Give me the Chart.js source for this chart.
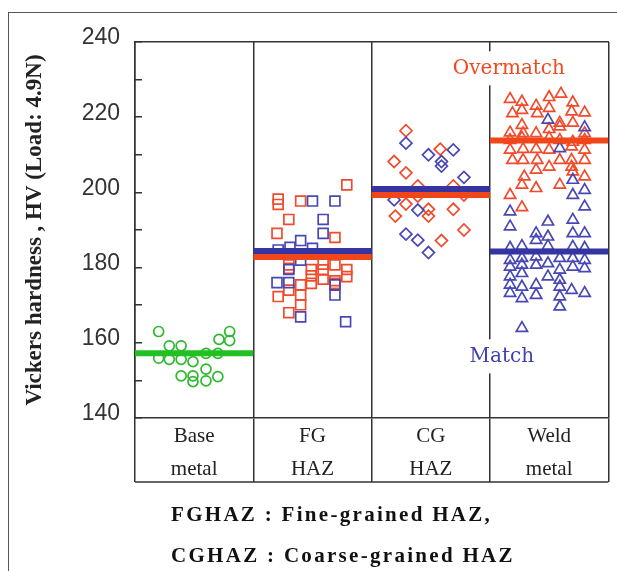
<!DOCTYPE html>
<html>
<head>
<meta charset="utf-8">
<script src="https://cdn.jsdelivr.net/npm/chart.js@4"></script>
<style>
  body { margin: 0; background: #fff; }
  #wrap { position: relative; width: 617px; height: 571px; }
  #frame { position: absolute; left: 8px; top: 12px; right: -2px; bottom: -2px;
           border-left: 1.5px solid #555; border-top: 1.5px solid #555; }
  canvas { position: absolute; left: 0; top: 0; }
</style>
</head>
<body>
<div id="wrap">
  <div id="frame"></div>
  <canvas id="myChart" width="617" height="571"></canvas>
</div>
<script>
// categories along x (each zone is one unit wide: 0-1, 1-2, 2-3, 3-4)
var categories = [['Base', 'metal'], ['FG', 'HAZ'], ['CG', 'HAZ'], ['Weld', 'metal']];
var yTicks = [140, 160, 180, 200, 220, 240];

// [position inside zone, HV]
var baseMetal = [
  [0.20, 163.0], [0.29, 159.2], [0.39, 159.2], [0.80, 163.0], [0.71, 160.9], [0.80, 160.6],
  [0.20, 155.9], [0.29, 155.6], [0.39, 155.6], [0.49, 155.0], [0.60, 157.2], [0.70, 157.2],
  [0.60, 153.0], [0.39, 151.2], [0.49, 151.2], [0.49, 149.7], [0.60, 149.9], [0.70, 151.0]
];
var fgRed = [
  [1.79, 202.0], [1.21, 198.2], [1.21, 196.8], [1.40, 197.7], [1.30, 192.8], [1.20, 189.1],
  [1.69, 188.0], [1.30, 180.7], [1.30, 179.8], [1.49, 179.5], [1.49, 177.8], [1.49, 175.8],
  [1.59, 180.9], [1.59, 179.4], [1.59, 176.9], [1.69, 180.7], [1.69, 175.8], [1.79, 179.5],
  [1.79, 177.6], [1.40, 175.4], [1.30, 174.0], [1.21, 172.3], [1.40, 172.7], [1.40, 170.1],
  [1.30, 168.0], [1.69, 176.5]
];
var fgBlue = [
  [1.50, 197.7], [1.69, 197.7], [1.59, 192.8], [1.59, 189.1], [1.40, 187.2], [1.40, 182.0],
  [1.20, 176.0], [1.30, 176.0], [1.69, 172.7], [1.40, 166.9], [1.78, 165.6], [1.21, 184.7],
  [1.31, 185.4], [1.50, 185.1], [1.30, 179.5], [1.69, 175.4]
];
var cgRed = [
  [2.29, 216.4], [2.58, 211.5], [2.19, 208.2], [2.29, 205.2], [2.39, 201.7], [2.69, 201.7],
  [2.29, 196.9], [2.20, 193.7], [2.48, 195.5], [2.48, 193.7], [2.69, 195.5], [2.78, 190.0],
  [2.59, 187.2], [2.39, 199.0], [2.78, 199.3]
];
var cgBlue = [
  [2.29, 213.1], [2.48, 210.0], [2.69, 211.3], [2.59, 208.2], [2.59, 207.0], [2.78, 204.0],
  [2.19, 198.0], [2.39, 195.3], [2.29, 188.9], [2.39, 187.3], [2.48, 184.0]
];
var weldRed = [
  [3.17, 224.8], [3.27, 224.1], [3.39, 223.0], [3.50, 225.3], [3.60, 226.2], [3.70, 223.9],
  [3.80, 221.2], [3.19, 221.0], [3.27, 221.9], [3.40, 221.0], [3.50, 222.4], [3.69, 221.5],
  [3.59, 218.5], [3.70, 218.5], [3.27, 217.9], [3.17, 215.9], [3.28, 215.7], [3.39, 215.7],
  [3.50, 216.8], [3.59, 217.5], [3.80, 215.7], [3.17, 211.3], [3.28, 211.5], [3.39, 211.5],
  [3.50, 211.3], [3.69, 212.2], [3.80, 211.3], [3.19, 208.6], [3.28, 208.6], [3.40, 208.6],
  [3.59, 208.6], [3.69, 208.6], [3.80, 208.6], [3.29, 204.2], [3.39, 206.0], [3.50, 206.8],
  [3.69, 206.8], [3.39, 201.1], [3.17, 199.3], [3.27, 196.0], [3.59, 202.0], [3.80, 204.2],
  [3.70, 205.5], [3.27, 202.0], [3.17, 213.9], [3.27, 214.5], [3.50, 214.5], [3.59, 213.9],
  [3.80, 213.9], [3.70, 213.4]
];
var weldBlue = [
  [3.49, 219.3], [3.80, 217.3], [3.59, 211.7], [3.70, 203.3], [3.80, 200.6], [3.70, 199.3],
  [3.17, 194.9], [3.80, 196.2], [3.17, 190.9], [3.49, 192.2], [3.70, 192.7], [3.39, 189.1],
  [3.49, 188.2], [3.70, 189.1], [3.80, 189.1], [3.39, 187.3], [3.17, 182.0], [3.27, 182.5],
  [3.17, 180.2], [3.27, 180.7], [3.39, 180.7], [3.49, 181.1], [3.59, 182.5], [3.70, 182.5],
  [3.80, 182.0], [3.59, 179.4], [3.70, 180.2], [3.80, 179.8], [3.49, 177.6], [3.17, 177.6],
  [3.27, 178.5], [3.17, 175.4], [3.39, 175.4], [3.59, 176.7], [3.27, 174.9], [3.17, 173.2],
  [3.39, 172.7], [3.27, 171.8], [3.59, 174.9], [3.59, 172.3], [3.69, 174.0], [3.80, 173.2],
  [3.59, 169.6], [3.27, 163.9], [3.17, 185.2], [3.27, 185.7], [3.49, 185.7], [3.70, 185.5],
  [3.80, 185.2], [3.39, 182.9]
];

// mean hardness per zone: [zone, mean]
var meanBase = [0, 157.2];
var meanRed = [[1, 182.8], [2, 199.3], [3, 213.8]];
var meanBlue = [[1, 184.4], [2, 200.9], [3, 184.3]];

var notes = [
  { text: 'Overmatch', x: 3.16, y: 233.0, color: '#f04a20' },
  { text: 'Match', x: 3.10, y: 156.4, color: '#4040b0' }
];
var footnote = ['FGHAZ : Fine-grained HAZ,', 'CGHAZ : Coarse-grained HAZ'];

var GREEN = '#2db82d', RED = '#f24a2a', BLUE = '#4848b4';
var GREEN_LINE = '#22c022', RED_LINE = '#f0461a', BLUE_LINE = '#3434a2';

function pts(arr) { return arr.map(function (p) { return { x: p[0], y: p[1] }; }); }
function meanLine(zone, v, color) {
  return { type: 'line', data: [{ x: zone, y: v }, { x: zone + 1, y: v }], borderColor: color,
           borderWidth: 6, pointRadius: 0, borderCapStyle: 'butt', fill: false };
}
function marks(arr, color, style, r) {
  return { type: 'scatter', data: pts(arr), borderColor: color, backgroundColor: 'rgba(0,0,0,0)',
           pointStyle: style, pointRadius: r, pointBorderWidth: 1.7, pointHoverRadius: r };
}

var datasets = [meanLine(meanBase[0], meanBase[1], GREEN_LINE)];
for (let i = 0; i < meanBlue.length; i++) {
  datasets.push(meanLine(meanBlue[i][0], meanBlue[i][1], BLUE_LINE));
  datasets.push(meanLine(meanRed[i][0], meanRed[i][1], RED_LINE));
}
datasets.push(marks(baseMetal, GREEN, 'circle', 5));
datasets.push(marks(fgBlue, BLUE, 'rect', 7));
datasets.push(marks(fgRed, RED, 'rect', 7));
datasets.push(marks(cgBlue, BLUE, 'rectRot', 6));
datasets.push(marks(cgRed, RED, 'rectRot', 6));
datasets.push(marks(weldBlue, BLUE, 'triangle', 6.5));
datasets.push(marks(weldRed, RED, 'triangle', 6.5));

const BOX = 64; // depth of the label table under the plot

const extras = {
  id: 'extras',
  afterDraw: function (chart) {
    const ctx = chart.ctx, a = chart.chartArea, xs = chart.scales.x, ys = chart.scales.y;
    ctx.save();
    // bottom line of the label table
    ctx.strokeStyle = '#333';
    ctx.lineWidth = 1.5;
    ctx.beginPath();
    ctx.moveTo(a.left, a.bottom + BOX);
    ctx.lineTo(a.right, a.bottom + BOX);
    ctx.stroke();
    // Overmatch / Match notes
    ctx.font = '20px "DejaVu Serif"';
    ctx.textAlign = 'center';
    ctx.textBaseline = 'middle';
    notes.forEach(function (n) {
      const px = xs.getPixelForValue(n.x), py = ys.getPixelForValue(n.y);
      const w = ctx.measureText(n.text).width;
      ctx.fillStyle = '#fff';
      ctx.fillRect(px - w / 2 - 3, py - 17, w + 6, 34);
      ctx.fillStyle = n.color;
      ctx.fillText(n.text, px, py);
    });
    // footnote
    ctx.font = 'bold 21px "Liberation Serif"';
    ctx.letterSpacing = '2.3px';
    ctx.textAlign = 'left';
    ctx.textBaseline = 'alphabetic';
    ctx.fillStyle = '#111';
    ctx.fillText(footnote[0], 171, 521);
    ctx.fillText(footnote[1], 171, 562);
    ctx.restore();
  }
};

Chart.defaults.font.family = '"Liberation Sans"';

const config = {
  data: { datasets: datasets },
  options: {
    responsive: false,
    devicePixelRatio: 1,
    animation: false,
    layout: { padding: { right: 7 } },
    plugins: { legend: { display: false }, tooltip: { enabled: false } },
    scales: {
      x: {
        type: 'linear', position: 'bottom', min: 0, max: 4,
        afterBuildTicks: function (s) {
          s.ticks = [0, 0.5, 1, 1.5, 2, 2.5, 3, 3.5, 4].map(function (v) { return { value: v }; });
        },
        afterFit: function (s) { s.height = 571 - 418; },
        ticks: {
          autoSkip: false, maxRotation: 0, padding: -62, color: '#222',
          font: { family: '"Liberation Serif"', size: 21, lineHeight: 1.57 },
          callback: function (v) { return Number.isInteger(v) ? '' : categories[Math.floor(v)]; }
        },
        grid: {
          tickLength: BOX, lineWidth: 1.5,
          color: function (c) { return Number.isInteger(c.tick.value) ? '#333' : 'rgba(0,0,0,0)'; }
        },
        border: { display: true, color: '#333', width: 1.5 }
      },
      xTop: {
        type: 'linear', position: 'top', min: 0, max: 4, display: true,
        afterFit: function (s) { s.height = 42; },
        ticks: { display: false },
        grid: { display: false, drawTicks: false },
        border: { display: true, color: '#333', width: 1.5 }
      },
      y: {
        min: 140, max: 240,
        afterBuildTicks: function (s) {
          const t = [];
          for (let v = 140; v <= 240; v += 10) t.push({ value: v });
          s.ticks = t;
        },
        afterFit: function (s) { s.width = 135; },
        ticks: {
          padding: 22, labelOffset: -4, color: '#333',
          font: { family: '"Liberation Sans"', size: 23 },
          callback: function (v) { return yTicks.indexOf(v) >= 0 ? v : ''; }
        },
        grid: { drawOnChartArea: false, tickLength: -7, color: '#333', lineWidth: 1.5 },
        border: { display: true, color: '#333', width: 1.5 },
        title: {
          display: true, text: 'Vickers hardness , HV (Load: 4.9N)', color: '#222',
          font: { family: '"Liberation Serif"', size: 23, weight: 'bold' }, padding: { top: 21, bottom: 0 }
        }
      }
    }
  },
  plugins: [extras]
};

const myChart = new Chart(document.getElementById('myChart'), config);
</script>
</body>
</html>
